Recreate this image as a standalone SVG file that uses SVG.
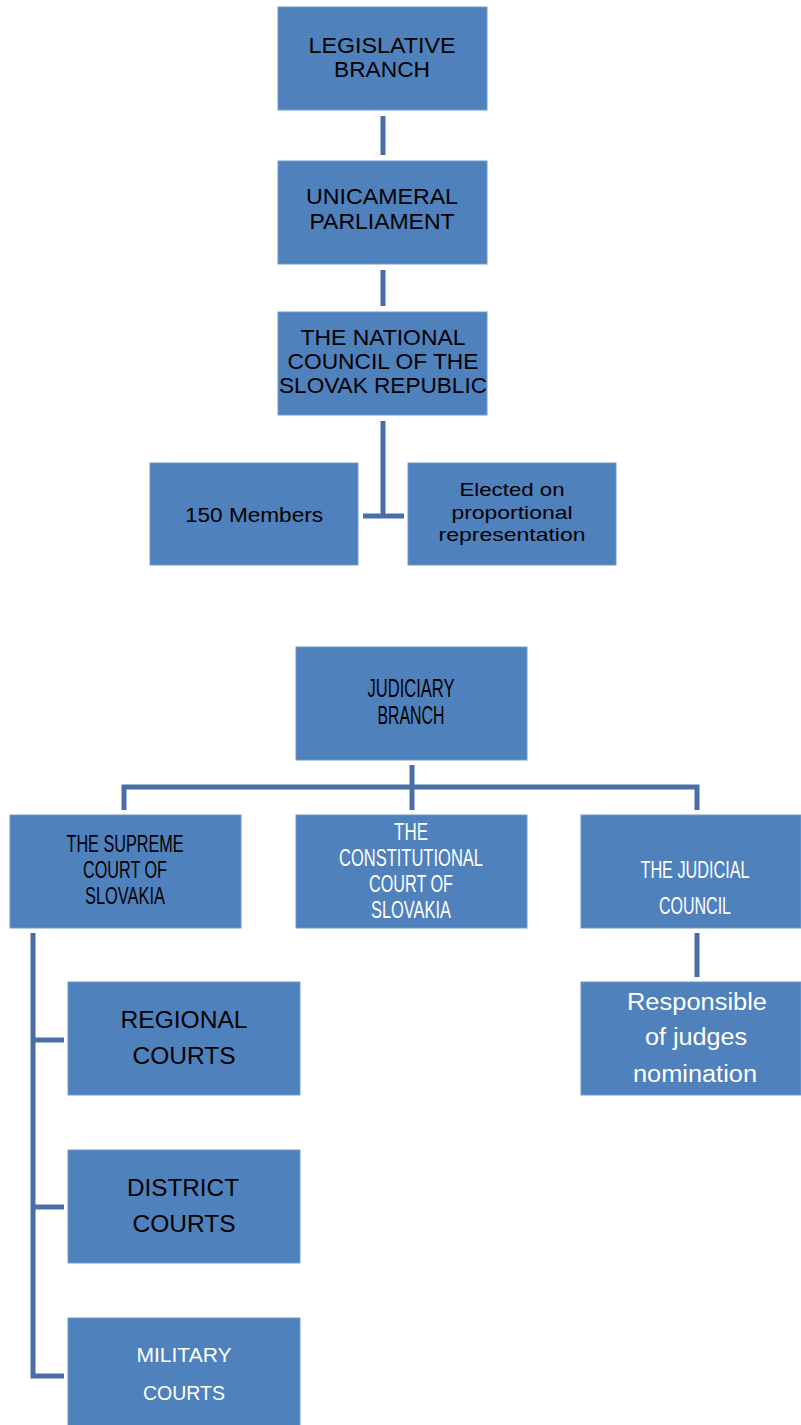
<svg xmlns="http://www.w3.org/2000/svg" width="801" height="1425" viewBox="0 0 801 1425">
<style>
.box{fill:#4F81BD;stroke:#6E9AD0;stroke-width:1}
.t{font-family:"Liberation Sans",Arial,sans-serif;text-anchor:middle;fill:#000}
.w{fill:#fff}
.c{stroke:#4A6FA8;stroke-width:5;fill:none}
</style>
<rect width="801" height="1425" fill="#fff"/>
<g id="connectors">
<line class="c" x1="383" y1="116" x2="383" y2="155"/>
<line class="c" x1="383" y1="270" x2="383" y2="306"/>
<line class="c" x1="383" y1="421" x2="383" y2="516"/>
<line class="c" x1="363" y1="516" x2="404" y2="516"/>
<line class="c" x1="412" y1="765" x2="412" y2="810"/>
<polyline class="c" points="124,810 124,787 697,787 697,810"/>
<line class="c" x1="697" y1="933" x2="697" y2="977"/>
<polyline class="c" points="33,933 33,1376 64,1376"/>
<line class="c" x1="33" y1="1040" x2="64" y2="1040"/>
<line class="c" x1="33" y1="1207" x2="64" y2="1207"/>
</g>
<g id="legislative">
<rect class="box" x="278" y="7" width="209" height="103"/>
<text class="t" font-size="22" x="382" y="53" textLength="147" lengthAdjust="spacingAndGlyphs">LEGISLATIVE</text>
<text class="t" font-size="22" x="382" y="77" textLength="96" lengthAdjust="spacingAndGlyphs">BRANCH</text>
</g>
<g id="unicameral">
<rect class="box" x="278" y="161" width="209" height="103"/>
<text class="t" font-size="22" x="382" y="204" textLength="152" lengthAdjust="spacingAndGlyphs">UNICAMERAL</text>
<text class="t" font-size="22" x="382" y="229" textLength="145" lengthAdjust="spacingAndGlyphs">PARLIAMENT</text>
</g>
<g id="national">
<rect class="box" x="278" y="312" width="209" height="103"/>
<text class="t" font-size="22" x="383" y="345" textLength="165" lengthAdjust="spacingAndGlyphs">THE NATIONAL</text>
<text class="t" font-size="22" x="383" y="369" textLength="191" lengthAdjust="spacingAndGlyphs">COUNCIL OF THE</text>
<text class="t" font-size="22" x="383" y="393" textLength="208" lengthAdjust="spacingAndGlyphs">SLOVAK REPUBLIC</text>
</g>
<g id="members">
<rect class="box" x="150" y="463" width="208" height="102"/>
<text class="t" font-size="20" x="254" y="522" textLength="138" lengthAdjust="spacingAndGlyphs">150 Members</text>
</g>
<g id="elected">
<rect class="box" x="408" y="463" width="208" height="102"/>
<text class="t" font-size="19" x="512" y="496" textLength="105" lengthAdjust="spacingAndGlyphs">Elected on</text>
<text class="t" font-size="19" x="512" y="519" textLength="121" lengthAdjust="spacingAndGlyphs">proportional</text>
<text class="t" font-size="19" x="512" y="541" textLength="147" lengthAdjust="spacingAndGlyphs">representation</text>
</g>
<g id="judiciary">
<rect class="box" x="296" y="647" width="231" height="113"/>
<text class="t" font-size="25" x="411" y="697" textLength="87" lengthAdjust="spacingAndGlyphs">JUDICIARY</text>
<text class="t" font-size="25" x="411" y="724" textLength="67" lengthAdjust="spacingAndGlyphs">BRANCH</text>
</g>
<g id="supreme">
<rect class="box" x="10" y="815" width="231" height="113"/>
<text class="t" font-size="24" x="125" y="852" textLength="117" lengthAdjust="spacingAndGlyphs">THE SUPREME</text>
<text class="t" font-size="24" x="125" y="878" textLength="84" lengthAdjust="spacingAndGlyphs">COURT OF</text>
<text class="t" font-size="24" x="125" y="904" textLength="80" lengthAdjust="spacingAndGlyphs">SLOVAKIA</text>
</g>
<g id="constitutional">
<rect class="box" x="296" y="815" width="231" height="113"/>
<text class="t w" font-size="24" x="411" y="840" textLength="34" lengthAdjust="spacingAndGlyphs">THE</text>
<text class="t w" font-size="24" x="411" y="866" textLength="144" lengthAdjust="spacingAndGlyphs">CONSTITUTIONAL</text>
<text class="t w" font-size="24" x="411" y="892" textLength="84" lengthAdjust="spacingAndGlyphs">COURT OF</text>
<text class="t w" font-size="24" x="411" y="918" textLength="80" lengthAdjust="spacingAndGlyphs">SLOVAKIA</text>
</g>
<g id="council">
<rect class="box" x="581" y="815" width="220" height="113"/>
<text class="t w" font-size="24" x="695" y="878" textLength="109" lengthAdjust="spacingAndGlyphs">THE JUDICIAL</text>
<text class="t w" font-size="24" x="695" y="914" textLength="72" lengthAdjust="spacingAndGlyphs">COUNCIL</text>
</g>
<g id="responsible">
<rect class="box" x="581" y="982" width="220" height="113"/>
<text class="t w" font-size="23" x="697" y="1010" textLength="140" lengthAdjust="spacingAndGlyphs">Responsible</text>
<text class="t w" font-size="23" x="696" y="1045" textLength="102" lengthAdjust="spacingAndGlyphs">of judges</text>
<text class="t w" font-size="23" x="695" y="1082" textLength="124" lengthAdjust="spacingAndGlyphs">nomination</text>
</g>
<g id="regional">
<rect class="box" x="68" y="982" width="232" height="113"/>
<text class="t" font-size="23" x="184" y="1028" textLength="127" lengthAdjust="spacingAndGlyphs">REGIONAL</text>
<text class="t" font-size="23" x="184" y="1064" textLength="103" lengthAdjust="spacingAndGlyphs">COURTS</text>
</g>
<g id="district">
<rect class="box" x="68" y="1150" width="232" height="113"/>
<text class="t" font-size="23" x="183" y="1196" textLength="112" lengthAdjust="spacingAndGlyphs">DISTRICT</text>
<text class="t" font-size="23" x="184" y="1232" textLength="103" lengthAdjust="spacingAndGlyphs">COURTS</text>
</g>
<g id="military">
<rect class="box" x="68" y="1318" width="232" height="110"/>
<text class="t w" font-size="21" x="184" y="1362" textLength="95" lengthAdjust="spacingAndGlyphs">MILITARY</text>
<text class="t w" font-size="21" x="184" y="1400" textLength="82" lengthAdjust="spacingAndGlyphs">COURTS</text>
</g>
</svg>
